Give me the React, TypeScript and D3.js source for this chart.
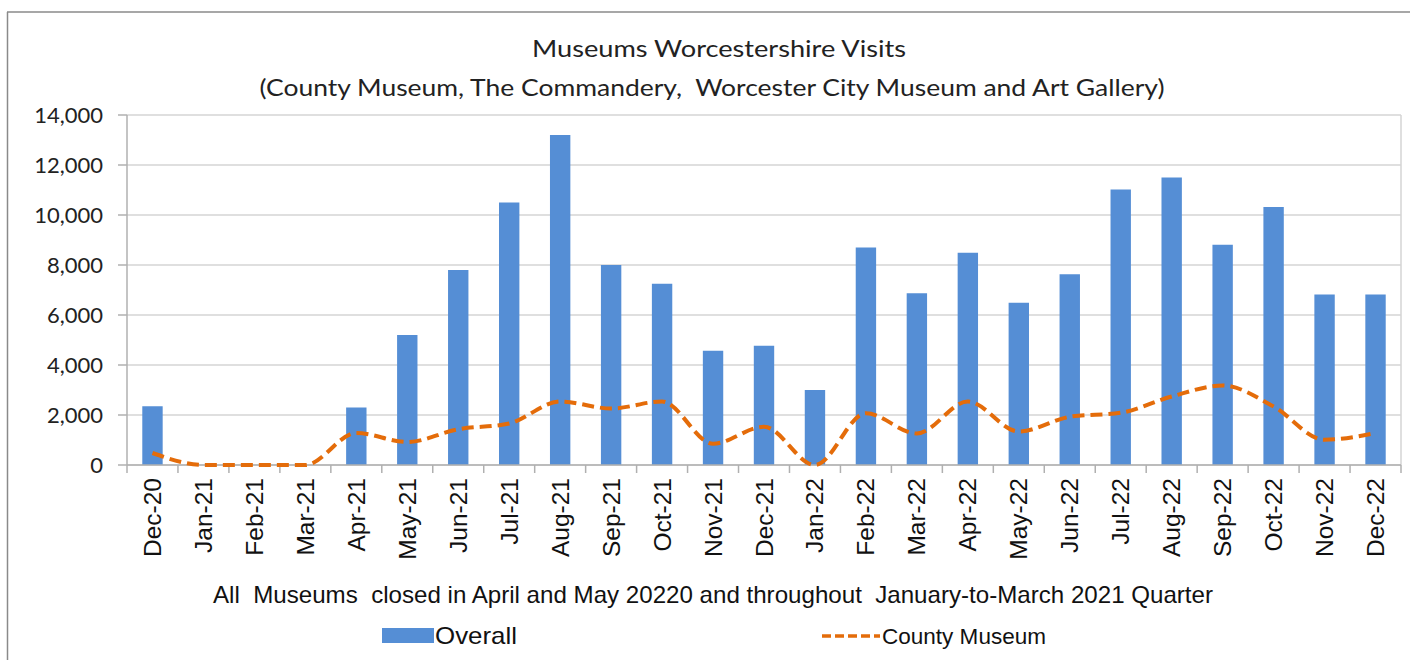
import React from "react";
import * as d3 from "d3";

const months = [
  "Dec-20", "Jan-21", "Feb-21", "Mar-21", "Apr-21", "May-21", "Jun-21", "Jul-21",
  "Aug-21", "Sep-21", "Oct-21", "Nov-21", "Dec-21", "Jan-22", "Feb-22", "Mar-22",
  "Apr-22", "May-22", "Jun-22", "Jul-22", "Aug-22", "Sep-22", "Oct-22", "Nov-22", "Dec-22",
];
const overall = [
  2350, 0, 0, 0, 2300, 5200, 7800, 10500, 13200, 8000, 7250, 4570, 4770, 3000, 8700, 6870,
  8490, 6490, 7630, 11020, 11500, 8810, 10320, 6820, 6820,
];
const county = [
  480, 0, 0, 0, 1280, 920, 1430, 1660, 2540, 2260, 2540, 850, 1530, 0, 2070, 1260,
  2540, 1340, 1930, 2090, 2740, 3180, 2340, 1010, 1280,
];
const yTicks = [0, 2000, 4000, 6000, 8000, 10000, 12000, 14000];
const titleLines = [
  "Museums Worcestershire Visits",
  "(County Museum, The Commandery,  Worcester City Museum and Art Gallery)",
];
const footnote =
  "All  Museums  closed in April and May 20220 and throughout  January-to-March 2021 Quarter";
const seriesNames = ["Overall", "County Museum"];

const W = 1410;
const H = 660;
const L = 127;
const R = 1401;
const T = 115;
const B = 465;

const BLUE = "#558ED5";
const ORANGE = "#E46C0A";
const GRID = "#d4d4d4";
const AXIS = "#b0b0b0";
const pre = { whiteSpace: "pre" as const };

export default function App() {
  const x = d3.scaleBand<string>().domain(months).range([L, R]).paddingInner(0.6).paddingOuter(0.3);
  const y = d3.scaleLinear().domain([0, 14000]).range([B, T]);
  const bw = x.bandwidth();
  const step = x.step();
  const fmt = d3.format(",");

  const line = d3
    .line<number>()
    .x((_, i) => (x(months[i]) as number) + bw / 2)
    .y((d) => y(d))
    .curve(d3.curveMonotoneX);

  const boundaries = d3.range(months.length + 1).map((i) => L + i * step);

  return (
    <svg
      width={W}
      height={H}
      style={{ position: "absolute", left: 0, top: 0, background: "#fff" }}
    >
      {/* outer frame */}
      <line x1={7} x2={W} y1={12} y2={12} stroke="#8a8a8a" strokeWidth={1.5} />
      <line x1={7.5} x2={7.5} y1={12} y2={H} stroke="#8a8a8a" strokeWidth={1.5} />

      {/* title */}
      <text
        x={719}
        y={57}
        textAnchor="middle"
        fontFamily="Lato, 'Open Sans', sans-serif"
        fontSize={24}
        fill="#222"
        textLength={374}
        lengthAdjust="spacingAndGlyphs"
        style={pre}
      >
        {titleLines[0]}
      </text>
      <text
        x={712}
        y={96}
        textAnchor="middle"
        fontFamily="Lato, 'Open Sans', sans-serif"
        fontSize={24}
        fill="#222"
        textLength={905}
        lengthAdjust="spacingAndGlyphs"
        style={pre}
      >
        {titleLines[1]}
      </text>

      {/* grid */}
      {yTicks.map((t) => (
        <line key={"g" + t} x1={L} x2={R} y1={y(t)} y2={y(t)} stroke={GRID} strokeWidth={1.5} />
      ))}
      <line x1={R} x2={R} y1={T} y2={B} stroke={GRID} strokeWidth={1.5} />

      {/* y axis */}
      <line x1={L} x2={L} y1={T} y2={B} stroke={AXIS} strokeWidth={1.5} />
      {yTicks.map((t) => (
        <g key={"y" + t}>
          <line x1={L - 9} x2={L} y1={y(t)} y2={y(t)} stroke={AXIS} strokeWidth={1.5} />
          <text
            x={103}
            y={y(t) + 8}
            textAnchor="end"
            fontFamily="Lato, 'Open Sans', sans-serif"
            fontSize={22}
            fill="#222"
          >
            {fmt(t)}
          </text>
        </g>
      ))}

      {/* bars */}
      {overall.map((v, i) => (
        <rect
          key={"b" + i}
          x={x(months[i])}
          y={y(v)}
          width={bw}
          height={B - y(v)}
          fill={BLUE}
        />
      ))}

      {/* x axis */}
      <line x1={L} x2={R} y1={B} y2={B} stroke={AXIS} strokeWidth={1.5} />
      {boundaries.map((bx, i) => (
        <line key={"xt" + i} x1={bx} x2={bx} y1={B} y2={B + 8} stroke={AXIS} strokeWidth={1.5} />
      ))}
      {months.map((m) => {
        const cx = (x(m) as number) + bw / 2;
        return (
          <text
            key={"xl" + m}
            transform={`translate(${cx + 8.5},${B + 13}) rotate(-90)`}
            textAnchor="end"
            fontFamily="'Liberation Sans', Arial, sans-serif"
            fontSize={24.5}
            fill="#111"
          >
            {m}
          </text>
        );
      })}

      {/* county line */}
      <path
        d={line(county) || ""}
        fill="none"
        stroke={ORANGE}
        strokeWidth={4}
        strokeDasharray="12,6"
      />

      {/* footnote */}
      <text
        x={713}
        y={603}
        textAnchor="middle"
        fontFamily="'Liberation Sans Narrow', 'Arial Narrow', 'Liberation Sans', sans-serif"
        fontSize={24}
        fill="#111"
        textLength={1000}
        lengthAdjust="spacingAndGlyphs"
        style={pre}
      >
        {footnote}
      </text>

      {/* legend */}
      <rect x={382} y={628} width={52} height={15} fill={BLUE} />
      <text
        x={435}
        y={644}
        fontFamily="'Liberation Sans Narrow', 'Arial Narrow', 'Liberation Sans', sans-serif"
        fontSize={24}
        fill="#111"
        textLength={82}
        lengthAdjust="spacingAndGlyphs"
      >
        {seriesNames[0]}
      </text>
      <line x1={822} x2={880} y1={636} y2={636} stroke={ORANGE} strokeWidth={3.5} strokeDasharray="9,4" />
      <text
        x={882}
        y={644}
        fontFamily="'Liberation Sans Narrow', 'Arial Narrow', 'Liberation Sans', sans-serif"
        fontSize={22}
        fill="#111"
        textLength={164}
        lengthAdjust="spacingAndGlyphs"
      >
        {seriesNames[1]}
      </text>
    </svg>
  );
}
